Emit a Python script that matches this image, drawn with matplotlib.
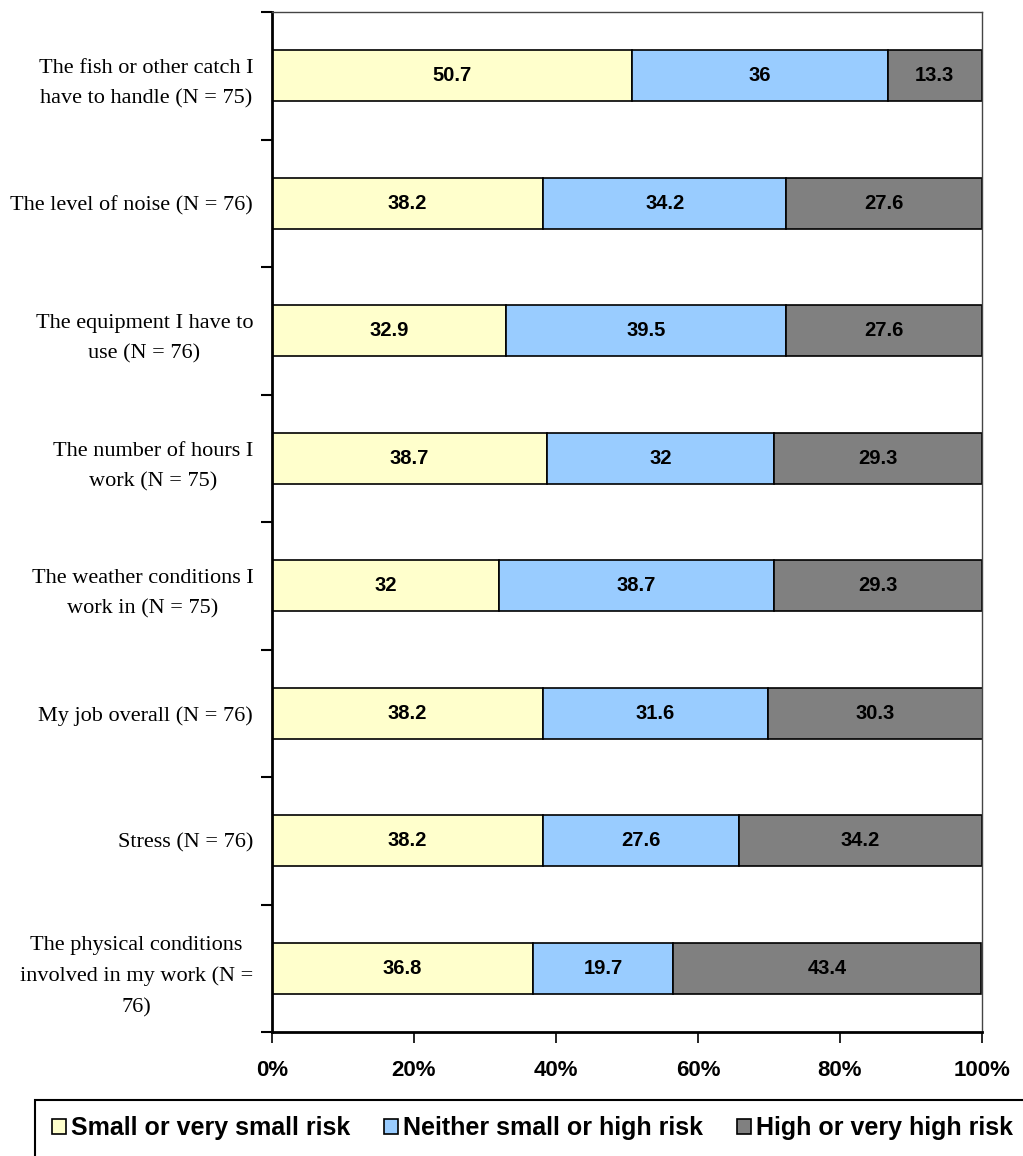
import matplotlib
matplotlib.use("Agg")
import matplotlib.pyplot as plt
from matplotlib.patches import Rectangle
import numpy as np

categories = [
    "The fish or other catch I\nhave to handle (N = 75)",
    "The level of noise (N = 76)",
    "The equipment I have to\nuse (N = 76)",
    "The number of hours I\nwork (N = 75)",
    "The weather conditions I\nwork in (N = 75)",
    "My job overall (N = 76)",
    "Stress (N = 76)",
    "The physical conditions\ninvolved in my work (N =\n76)",
]
small_risk = [50.7, 38.2, 32.9, 38.7, 32, 38.2, 38.2, 36.8]
neither_risk = [36, 34.2, 39.5, 32, 38.7, 31.6, 27.6, 19.7]
high_risk = [13.3, 27.6, 27.6, 29.3, 29.3, 30.3, 34.2, 43.4]
series_names = ["Small or very small risk", "Neither small or high risk", "High or very high risk"]
colors = ["#FFFFCC", "#99CCFF", "#808080"]
x_ticks = [0, 20, 40, 60, 80, 100]
x_ticklabels = ["0%", "20%", "40%", "60%", "80%", "100%"]

W, H = 1023, 1156
fig = plt.figure(figsize=(W / 100, H / 100), dpi=100)
ax = fig.add_axes([272 / W, 1 - 1032 / H, (982 - 272) / W, (1032 - 12) / H])

y = np.arange(len(categories))
left = np.zeros(len(categories))
handles = []
for vals, name, col in zip([small_risk, neither_risk, high_risk], series_names, colors):
    vals = np.array(vals, dtype=float)
    b = ax.barh(y, vals, left=left, height=0.4, color=col, edgecolor="black", linewidth=1.2, label=name)
    handles.append(b)
    for yi, l, v in zip(y, left, vals):
        ax.text(l + v / 2, yi, f"{v:g}", ha="center", va="center",
                fontsize=14.5, fontweight="bold", family="Liberation Sans")
    left = left + vals

ax.set_xlim(0, 100)
ax.set_ylim(len(categories) - 0.5, -0.5)

ax.set_yticks(y)
ax.set_yticklabels(categories, family="Liberation Serif", fontsize=16,
                   multialignment="center", linespacing=1.8)
ax.tick_params(axis="y", which="major", length=0, pad=13.5)
ax.set_yticks(np.arange(-0.5, len(categories) + 0.5, 1), minor=True)
ax.tick_params(axis="y", which="minor", length=8, width=1.5, direction="out")

ax.set_xticks(x_ticks)
ax.set_xticklabels(x_ticklabels, fontsize=16, fontweight="bold", family="Liberation Sans")
ax.tick_params(axis="x", length=8, width=1.2, direction="out", pad=12)

for s in ["left", "bottom"]:
    ax.spines[s].set_linewidth(2)
    ax.spines[s].set_color("black")
for s in ["top", "right"]:
    ax.spines[s].set_linewidth(1)
    ax.spines[s].set_color("#444444")

# legend box
fig.patches.append(Rectangle((35 / W, -0.05), 1.0, 1 - 1100 / H + 0.05,
                             transform=fig.transFigure, fill=False,
                             edgecolor="black", linewidth=1.5))
leg = fig.legend(handles=handles, labels=series_names, loc="center left",
                 bbox_to_anchor=(52 / W, 1 - 1128 / H), ncol=3, frameon=False,
                 prop={"family": "Liberation Sans", "weight": "bold", "size": 18},
                 handlelength=0.56, handleheight=0.56, handletextpad=0.2,
                 columnspacing=1.35, borderpad=0, borderaxespad=0)

fig.savefig("out.png", dpi=100)
